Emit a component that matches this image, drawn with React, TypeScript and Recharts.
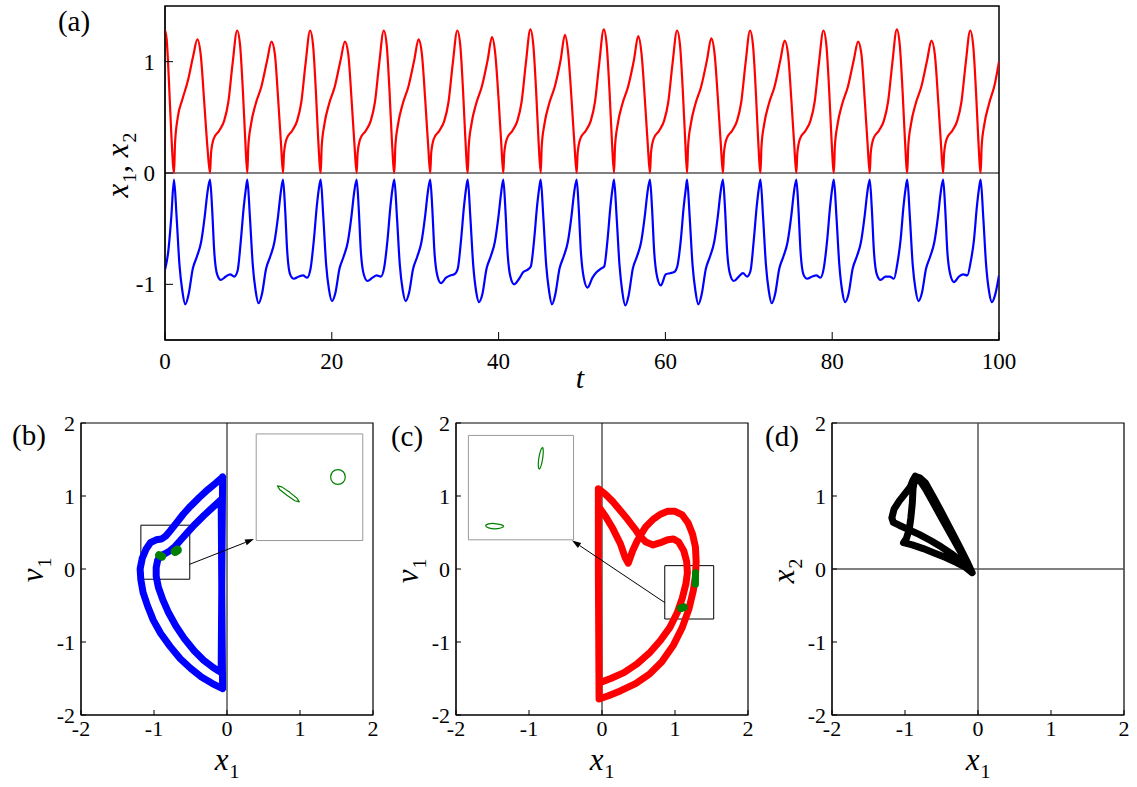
import React from "react";
import { LineChart, Line, XAxis, YAxis, ReferenceLine, ReferenceArea } from "recharts";

// ---------- panel (a): time series, [t, value] ----------
const T_TICKS = [0, 20, 40, 60, 80, 100];
const A_Y_TICKS = [-1, 0, 1];

const X1_SERIES: [number, number][] = [
  [0, 1.28], [0.2, 1.2], [0.48, 0.81], [0.75, 0.36],
  [1.08, 0], [1.2, 0.26], [1.53, 0.5], [2.08, 0.66], [2.78, 0.84], [3.38, 1.05], [3.88, 1.2], [4.3, 1.05], [4.72, 0.62], [5.1, 0.22],
  [5.4, 0], [5.52, 0.18], [5.85, 0.31], [6.5, 0.38], [7.1, 0.47], [7.6, 0.64], [8.1, 0.98], [8.65, 1.28], [9.0, 1.15], [9.35, 0.72], [9.62, 0.3],
  [9.87, 0], [9.99, 0.24], [10.32, 0.44], [10.87, 0.62], [11.57, 0.78], [12.27, 1.02], [12.77, 1.18], [13.17, 1.07], [13.57, 0.66], [13.92, 0.25],
  [14.15, 0], [14.27, 0.18], [14.6, 0.31], [15.25, 0.38], [15.85, 0.47], [16.35, 0.64], [16.85, 0.98], [17.4, 1.28], [17.75, 1.15], [18.1, 0.72], [18.37, 0.3],
  [18.67, 0], [18.79, 0.24], [19.12, 0.44], [19.67, 0.62], [20.37, 0.78], [21.07, 1.02], [21.57, 1.18], [21.97, 1.07], [22.37, 0.66], [22.72, 0.25],
  [22.98, 0], [23.1, 0.18], [23.43, 0.31], [24.08, 0.38], [24.68, 0.47], [25.18, 0.64], [25.68, 0.98], [26.23, 1.28], [26.58, 1.15], [26.93, 0.72], [27.2, 0.3],
  [27.5, 0], [27.62, 0.24], [27.95, 0.44], [28.5, 0.62], [29.2, 0.78], [29.9, 1.02], [30.4, 1.2], [30.8, 1.07], [31.2, 0.66], [31.55, 0.25],
  [31.8, 0], [31.92, 0.18], [32.25, 0.31], [32.9, 0.38], [33.5, 0.47], [34.0, 0.64], [34.5, 0.98], [35.05, 1.28], [35.4, 1.15], [35.75, 0.72], [36.02, 0.3],
  [36.3, 0], [36.42, 0.24], [36.75, 0.44], [37.3, 0.62], [38.0, 0.78], [38.7, 1.02], [39.2, 1.22], [39.6, 1.07], [40.0, 0.66], [40.33, 0.25],
  [40.56, 0], [40.68, 0.18], [41.01, 0.31], [41.66, 0.38], [42.26, 0.47], [42.76, 0.64], [43.26, 0.98], [43.81, 1.29], [44.16, 1.15], [44.51, 0.72], [44.78, 0.3],
  [45.05, 0], [45.17, 0.24], [45.5, 0.44], [46.05, 0.62], [46.75, 0.78], [47.45, 1.02], [47.95, 1.24], [48.35, 1.07], [48.75, 0.66], [49.1, 0.25],
  [49.36, 0], [49.48, 0.18], [49.81, 0.31], [50.46, 0.38], [51.06, 0.47], [51.56, 0.64], [52.06, 0.98], [52.61, 1.29], [52.96, 1.15], [53.31, 0.72], [53.58, 0.3],
  [53.84, 0], [53.96, 0.24], [54.29, 0.44], [54.84, 0.62], [55.54, 0.78], [56.24, 1.02], [56.74, 1.23], [57.14, 1.07], [57.54, 0.66], [57.89, 0.25],
  [58.15, 0], [58.27, 0.18], [58.6, 0.31], [59.25, 0.38], [59.85, 0.47], [60.35, 0.64], [60.85, 0.98], [61.4, 1.28], [61.75, 1.15], [62.1, 0.72], [62.37, 0.3],
  [62.6, 0], [62.72, 0.24], [63.05, 0.44], [63.6, 0.62], [64.3, 0.78], [65.0, 1.02], [65.5, 1.21], [65.9, 1.07], [66.3, 0.66], [66.65, 0.25],
  [66.9, 0], [67.02, 0.18], [67.35, 0.31], [68.0, 0.38], [68.6, 0.47], [69.1, 0.64], [69.6, 0.98], [70.15, 1.28], [70.5, 1.15], [70.85, 0.72], [71.12, 0.3],
  [71.4, 0], [71.52, 0.24], [71.85, 0.44], [72.4, 0.62], [73.1, 0.78], [73.8, 1.02], [74.3, 1.19], [74.7, 1.07], [75.1, 0.66], [75.45, 0.25],
  [75.7, 0], [75.82, 0.18], [76.15, 0.31], [76.8, 0.38], [77.4, 0.47], [77.9, 0.64], [78.4, 0.98], [78.95, 1.28], [79.3, 1.15], [79.65, 0.72], [79.92, 0.3],
  [80.2, 0], [80.32, 0.24], [80.65, 0.44], [81.2, 0.62], [81.9, 0.78], [82.6, 1.02], [83.1, 1.18], [83.5, 1.07], [83.9, 0.66], [84.25, 0.25],
  [84.5, 0], [84.62, 0.18], [84.95, 0.31], [85.6, 0.38], [86.2, 0.47], [86.7, 0.64], [87.2, 0.98], [87.75, 1.29], [88.1, 1.15], [88.45, 0.72], [88.72, 0.3],
  [89.0, 0], [89.12, 0.24], [89.45, 0.44], [90.0, 0.62], [90.7, 0.78], [91.4, 1.02], [91.9, 1.19], [92.3, 1.07], [92.7, 0.66], [93.05, 0.25],
  [93.3, 0], [93.42, 0.18], [93.75, 0.31], [94.4, 0.38], [95.0, 0.47], [95.5, 0.64], [96.0, 0.98], [96.55, 1.28], [96.9, 1.15], [97.25, 0.72], [97.52, 0.3],
  [97.8, 0], [97.92, 0.24], [98.25, 0.44], [98.8, 0.62], [99.5, 0.8], [100, 1.0],
];

const X2_SERIES: [number, number][] = [
  [0, -0.87], [0.4, -0.7], [0.75, -0.4],
  [1.08, -0.06], [1.38, -0.38], [1.73, -0.82], [2.08, -1.06], [2.43, -1.18], [2.83, -1.09], [3.33, -0.86], [3.83, -0.75], [4.33, -0.62], [4.78, -0.38], [5.08, -0.18],
  [5.4, -0.06], [5.65, -0.32], [5.9, -0.7], [6.25, -0.91], [6.7, -0.96], [7.3, -0.93], [7.8, -0.91], [8.3, -0.93], [8.7, -0.88], [9.1, -0.6], [9.45, -0.3], [9.7, -0.14],
  [9.87, -0.06], [10.17, -0.38], [10.52, -0.82], [10.87, -1.06], [11.22, -1.17], [11.62, -1.09], [12.12, -0.86], [12.62, -0.75], [13.12, -0.62], [13.57, -0.38], [13.87, -0.18],
  [14.15, -0.06], [14.4, -0.32], [14.65, -0.7], [15.0, -0.91], [15.45, -0.95], [16.05, -0.93], [16.55, -0.92], [17.05, -0.94], [17.45, -0.86], [17.85, -0.6], [18.2, -0.3], [18.45, -0.14],
  [18.67, -0.06], [18.97, -0.38], [19.32, -0.82], [19.67, -1.05], [20.02, -1.15], [20.42, -1.08], [20.92, -0.86], [21.42, -0.75], [21.92, -0.62], [22.37, -0.38], [22.67, -0.18],
  [22.98, -0.06], [23.23, -0.32], [23.48, -0.7], [23.83, -0.91], [24.28, -0.97], [24.88, -0.94], [25.38, -0.92], [25.88, -0.93], [26.28, -0.85], [26.68, -0.6], [27.03, -0.3], [27.28, -0.14],
  [27.5, -0.06], [27.8, -0.38], [28.15, -0.82], [28.5, -1.05], [28.85, -1.15], [29.25, -1.08], [29.75, -0.86], [30.25, -0.75], [30.75, -0.62], [31.2, -0.38], [31.5, -0.18],
  [31.8, -0.06], [32.05, -0.32], [32.3, -0.7], [32.65, -0.92], [33.1, -0.99], [33.7, -0.94], [34.2, -0.92], [34.7, -0.91], [35.1, -0.86], [35.5, -0.6], [35.85, -0.3], [36.1, -0.14],
  [36.3, -0.06], [36.6, -0.38], [36.95, -0.82], [37.3, -1.06], [37.65, -1.16], [38.05, -1.09], [38.55, -0.86], [39.05, -0.75], [39.55, -0.62], [40.0, -0.38], [40.3, -0.18],
  [40.56, -0.06], [40.81, -0.32], [41.06, -0.7], [41.41, -0.93], [41.86, -1.0], [42.46, -0.95], [42.96, -0.89], [43.46, -0.87], [43.86, -0.84], [44.26, -0.6], [44.61, -0.3], [44.86, -0.14],
  [45.05, -0.06], [45.35, -0.38], [45.7, -0.82], [46.05, -1.06], [46.4, -1.18], [46.8, -1.09], [47.3, -0.86], [47.8, -0.75], [48.3, -0.62], [48.75, -0.38], [49.05, -0.18],
  [49.36, -0.06], [49.61, -0.32], [49.86, -0.7], [50.21, -0.94], [50.66, -1.03], [51.26, -0.94], [51.76, -0.89], [52.26, -0.86], [52.66, -0.84], [53.06, -0.6], [53.41, -0.3], [53.66, -0.14],
  [53.84, -0.06], [54.14, -0.38], [54.49, -0.82], [54.84, -1.07], [55.19, -1.19], [55.59, -1.1], [56.09, -0.86], [56.59, -0.75], [57.09, -0.62], [57.54, -0.38], [57.84, -0.18],
  [58.15, -0.06], [58.4, -0.32], [58.65, -0.7], [59.0, -0.93], [59.45, -1.01], [60.05, -0.91], [60.55, -0.9], [61.05, -0.89], [61.45, -0.83], [61.85, -0.6], [62.2, -0.3], [62.45, -0.14],
  [62.6, -0.06], [62.9, -0.38], [63.25, -0.82], [63.6, -1.06], [63.95, -1.18], [64.35, -1.09], [64.85, -0.86], [65.35, -0.75], [65.85, -0.62], [66.3, -0.38], [66.6, -0.18],
  [66.9, -0.06], [67.15, -0.32], [67.4, -0.7], [67.75, -0.91], [68.2, -0.97], [68.8, -0.93], [69.3, -0.9], [69.8, -0.93], [70.2, -0.88], [70.6, -0.6], [70.95, -0.3], [71.2, -0.14],
  [71.4, -0.06], [71.7, -0.38], [72.05, -0.82], [72.4, -1.06], [72.75, -1.17], [73.15, -1.09], [73.65, -0.86], [74.15, -0.75], [74.65, -0.62], [75.1, -0.38], [75.4, -0.18],
  [75.7, -0.06], [75.95, -0.32], [76.2, -0.7], [76.55, -0.91], [77.0, -0.95], [77.6, -0.93], [78.1, -0.92], [78.6, -0.94], [79.0, -0.85], [79.4, -0.6], [79.75, -0.3], [80.0, -0.14],
  [80.2, -0.06], [80.5, -0.38], [80.85, -0.82], [81.2, -1.06], [81.55, -1.16], [81.95, -1.09], [82.45, -0.86], [82.95, -0.75], [83.45, -0.62], [83.9, -0.38], [84.2, -0.18],
  [84.5, -0.06], [84.75, -0.32], [85.0, -0.7], [85.35, -0.91], [85.8, -0.96], [86.4, -0.93], [86.9, -0.93], [87.4, -0.95], [87.8, -0.82], [88.2, -0.6], [88.55, -0.3], [88.8, -0.14],
  [89.0, -0.06], [89.3, -0.38], [89.65, -0.82], [90.0, -1.05], [90.35, -1.15], [90.75, -1.08], [91.25, -0.86], [91.75, -0.75], [92.25, -0.62], [92.7, -0.38], [93.0, -0.18],
  [93.3, -0.06], [93.55, -0.32], [93.8, -0.7], [94.15, -0.91], [94.6, -0.98], [95.2, -0.93], [95.7, -0.91], [96.2, -0.92], [96.6, -0.8], [97.0, -0.6], [97.35, -0.3], [97.6, -0.14],
  [97.8, -0.06], [98.1, -0.38], [98.45, -0.82], [98.8, -1.06], [99.15, -1.16], [99.55, -1.09], [100, -0.92],
];

// ---------- panels (b)-(d): phase portraits, [x, y] ----------
const PHASE_TICKS = [-2, -1, 0, 1, 2];

const ORBIT_B: [number, number][] = [
  [-0.06, 1.26], [-0.15, 1.18], [-0.26, 1.09], [-0.38, 0.98], [-0.5, 0.86], [-0.6, 0.75], [-0.7, 0.62], [-0.78, 0.52],
  [-0.84, 0.45], [-0.9, 0.41], [-0.97, 0.4], [-1.05, 0.36], [-1.11, 0.27], [-1.16, 0.15], [-1.19, 0.0], [-1.18, -0.15],
  [-1.15, -0.32], [-1.09, -0.5], [-1.01, -0.7], [-0.91, -0.88], [-0.78, -1.06], [-0.64, -1.23], [-0.5, -1.36], [-0.35, -1.48],
  [-0.2, -1.57], [-0.06, -1.64], [-0.07, -0.5], [-0.08, 0.95],
  [-0.2, 0.84], [-0.32, 0.73], [-0.44, 0.61], [-0.55, 0.49], [-0.64, 0.39], [-0.71, 0.31], [-0.78, 0.25], [-0.85, 0.21],
  [-0.91, 0.18], [-0.95, 0.12], [-0.97, 0.02], [-0.97, -0.1], [-0.94, -0.25], [-0.88, -0.42], [-0.8, -0.6], [-0.7, -0.78],
  [-0.58, -0.96], [-0.45, -1.12], [-0.32, -1.25], [-0.19, -1.35], [-0.08, -1.42], [-0.07, 0.0], [-0.06, 1.26],
];

const ORBIT_C: [number, number][] = [
  [-0.04, -1.78], [-0.05, 0.0], [-0.05, 1.1], [0.05, 1.02], [0.15, 0.92], [0.25, 0.8], [0.35, 0.68], [0.45, 0.55], [0.52, 0.45],
  [0.6, 0.37], [0.7, 0.33], [0.8, 0.36], [0.9, 0.4], [0.98, 0.41], [1.05, 0.37], [1.12, 0.25], [1.16, 0.1], [1.17, -0.05],
  [1.15, -0.2], [1.1, -0.4], [1.03, -0.6], [0.93, -0.8], [0.8, -0.98], [0.65, -1.15], [0.48, -1.3], [0.3, -1.42], [0.12, -1.5],
  [-0.04, -1.56], [-0.05, 0.0], [-0.05, 0.86], [0.05, 0.72], [0.15, 0.55], [0.25, 0.35], [0.32, 0.15], [0.36, 0.08],
  [0.42, 0.25], [0.48, 0.38], [0.52, 0.45], [0.6, 0.58], [0.7, 0.68], [0.8, 0.75], [0.9, 0.79], [1.0, 0.79], [1.1, 0.74],
  [1.18, 0.63], [1.24, 0.48], [1.28, 0.3], [1.29, 0.1], [1.28, -0.1], [1.25, -0.3], [1.19, -0.55], [1.1, -0.8], [0.98, -1.04],
  [0.82, -1.27], [0.65, -1.44], [0.46, -1.57], [0.25, -1.67], [0.08, -1.74], [-0.04, -1.78],
];

const ORBIT_D: [number, number][] = [
  [-0.08, -0.05], [-0.22, 0.2], [-0.36, 0.45], [-0.5, 0.7], [-0.62, 0.92], [-0.72, 1.1], [-0.8, 1.22], [-0.86, 1.27],
  [-0.89, 1.1], [-0.9, 0.9], [-0.92, 0.7], [-0.94, 0.55], [-0.98, 0.42], [-1.02, 0.36], [-0.9, 0.33], [-0.75, 0.28],
  [-0.6, 0.22], [-0.45, 0.16], [-0.3, 0.09], [-0.18, 0.03], [-0.08, -0.05],
  [-0.2, 0.08], [-0.35, 0.2], [-0.5, 0.3], [-0.65, 0.39], [-0.8, 0.47], [-0.95, 0.54], [-1.08, 0.6], [-1.16, 0.64],
  [-1.18, 0.7], [-1.15, 0.82], [-1.08, 0.93], [-1.0, 1.03], [-0.93, 1.12], [-0.89, 1.22], [-0.86, 1.27], [-0.8, 1.25],
  [-0.72, 1.18], [-0.62, 1.0], [-0.5, 0.78], [-0.38, 0.55], [-0.25, 0.3], [-0.14, 0.08], [-0.08, -0.05],
];

// Poincare points (green) on the orbits
const GREEN_B1: [number, number][] = [[-0.93, 0.19], [-0.89, 0.17]];
const GREEN_B2: [number, number][] = [[-0.71, 0.24], [-0.68, 0.26]];
const GREEN_C1: [number, number][] = [[1.28, -0.05], [1.28, -0.21]];
const GREEN_C2: [number, number][] = [[1.08, -0.535], [1.12, -0.525]];

// magnified sections drawn inside the insets
const INSET_B1: [number, number][] = [
  [0.99, 0.92], [0.96, 0.97], [0.86, 1.05], [0.75, 1.125], [0.69, 1.14], [0.72, 1.09], [0.82, 1.01], [0.93, 0.935],
];
const INSET_B2: [number, number][] = [
  [1.63, 1.26], [1.6, 1.34], [1.52, 1.37], [1.44, 1.34], [1.41, 1.26], [1.44, 1.18], [1.52, 1.15], [1.6, 1.18],
];
const INSET_C1: [number, number][] = [
  [-0.81, 1.7], [-0.8, 1.6], [-0.82, 1.45], [-0.86, 1.34], [-0.88, 1.42], [-0.86, 1.58],
];
const INSET_C2: [number, number][] = [
  [-1.61, 0.59], [-1.56, 0.625], [-1.47, 0.625], [-1.38, 0.61], [-1.33, 0.585], [-1.38, 0.56], [-1.47, 0.545], [-1.56, 0.56],
];

// zoom boxes [x1, x2, y1, y2] and arrows [from, to]
const ZOOM_BOX_B = [-1.18, -0.51, -0.14, 0.6];
const INSET_BOX_B = [0.4, 1.86, 0.39, 1.85];
const ARROW_B = [[-0.51, 0.065], [0.37, 0.41]];
const ZOOM_BOX_C = [0.86, 1.53, -0.685, 0.046];
const INSET_BOX_C = [-1.83, -0.39, 0.4, 1.83];
const ARROW_C = [[0.86, -0.46], [-0.41, 0.39]];

const serif = '"Liberation Serif", "Times New Roman", "DejaVu Serif", serif';
const toTV = (arr: [number, number][]) => arr.map(([t, v]) => ({ t, v }));
const toXY = (arr: [number, number][]) => arr.map(([x, y]) => ({ x, y }));

const Arrow = (props: any) => {
  const { x1, y1, x2, y2 } = props;
  const ang = Math.atan2(y2 - y1, x2 - x1);
  const len = 9;
  const w = 3;
  const bx = x2 - len * Math.cos(ang);
  const by = y2 - len * Math.sin(ang);
  const pts = `${x2},${y2} ${bx - w * Math.sin(ang)},${by + w * Math.cos(ang)} ${bx + w * Math.sin(ang)},${by - w * Math.cos(ang)}`;
  return (
    <g>
      <line x1={x1} y1={y1} x2={bx} y2={by} stroke="#000" strokeWidth={1} />
      <polygon points={pts} fill="#000" />
    </g>
  );
};

const Txt = ({ x, y, size, rotate, italic, children }: any) => (
  <div
    style={{
      position: "absolute",
      left: x,
      top: y,
      transform: `translate(-50%, -50%)${rotate ? " rotate(-90deg)" : ""}`,
      fontFamily: serif,
      fontSize: size,
      fontStyle: italic ? "italic" : "normal",
      lineHeight: 1,
      whiteSpace: "nowrap",
      color: "#000",
    }}
  >
    {children}
  </div>
);

const Sub = ({ children }: any) => (
  <span style={{ fontSize: "0.64em", fontStyle: "normal", position: "relative", top: "0.38em", marginLeft: 1 }}>
    {children}
  </span>
);

const tickStyle = (size: number) => ({ fontFamily: serif, fontSize: size, fill: "#000" });

const box = (b: number[], stroke: string, fill: string) => (
  <ReferenceArea x1={b[0]} x2={b[1]} y1={b[2]} y2={b[3]} stroke={stroke} strokeWidth={1} fill={fill} fillOpacity={1} />
);

function phaseAxes(yWidth: number) {
  return [
    <XAxis
      key="x"
      type="number"
      dataKey="x"
      domain={[-2, 2]}
      ticks={PHASE_TICKS}
      interval={0}
      allowDataOverflow
      height={40}
      tickSize={-5}
      tickMargin={10}
      tick={tickStyle(22)}
      axisLine={{ stroke: "#000" }}
      tickLine={{ stroke: "#000" }}
    />,
    <YAxis
      key="y"
      type="number"
      dataKey="y"
      domain={[-2, 2]}
      ticks={PHASE_TICKS}
      interval={0}
      allowDataOverflow
      width={yWidth}
      tickSize={-5}
      tickMargin={11}
      tick={tickStyle(22)}
      axisLine={{ stroke: "#000" }}
      tickLine={{ stroke: "#000" }}
    />,
    <ReferenceArea key="frame" x1={-2} x2={2} y1={-2} y2={2} fill="none" stroke="#000" strokeWidth={1.2} />,
  ];
}

const orbitLine = (data: [number, number][], color: string, width: number, type: any = "linear") => (
  <Line
    data={toXY(data)}
    dataKey="y"
    type={type}
    stroke={color}
    strokeWidth={width}
    strokeLinejoin="round"
    strokeLinecap="round"
    dot={false}
    isAnimationActive={false}
  />
);

const PANEL_TOP = 400;
const PANEL_MARGIN = { top: 23, right: 14, left: 0, bottom: 0 };

export default function App() {
  return (
    <div style={{ position: "absolute", left: 0, top: 0, width: 1137, height: 787, background: "#fff", overflow: "hidden" }}>
      {/* (a) */}
      <div style={{ position: "absolute", left: 0, top: 0 }}>
        <LineChart width={1030} height={400} margin={{ top: 6, right: 31, left: 0, bottom: 0 }}>
          <XAxis
            type="number"
            dataKey="t"
            domain={[0, 100]}
            ticks={T_TICKS}
            interval={0}
            allowDataOverflow
            height={60}
            tickSize={-8}
            tickMargin={21}
            tick={tickStyle(23)}
            axisLine={{ stroke: "#000" }}
            tickLine={{ stroke: "#000" }}
          />
          <YAxis
            type="number"
            dataKey="v"
            domain={[-1.5, 1.5]}
            ticks={A_Y_TICKS}
            interval={0}
            allowDataOverflow
            width={165}
            tickSize={-8}
            tickMargin={18}
            tick={tickStyle(23)}
            axisLine={{ stroke: "#000" }}
            tickLine={{ stroke: "#000" }}
          />
          <ReferenceArea x1={0} x2={100} y1={-1.5} y2={1.5} fill="none" stroke="#000" strokeWidth={1.5} />
          <ReferenceLine y={0} stroke="#000" strokeWidth={1} />
          <Line data={toTV(X1_SERIES)} dataKey="v" type="monotone" stroke="#ff0000" strokeWidth={2.2} dot={false} isAnimationActive={false} />
          <Line data={toTV(X2_SERIES)} dataKey="v" type="monotone" stroke="#0000ff" strokeWidth={2.2} dot={false} isAnimationActive={false} />
        </LineChart>
      </div>

      {/* (b) */}
      <div style={{ position: "absolute", left: 0, top: PANEL_TOP }}>
        <LineChart width={387} height={355} margin={PANEL_MARGIN}>
          {phaseAxes(81)}
          <ReferenceLine x={0} stroke="#000" strokeWidth={1} />
          {box(INSET_BOX_B, "#999", "#fff")}
          {orbitLine(ORBIT_B, "#0000ff", 7)}
          {box(ZOOM_BOX_B, "#000", "none")}
          {orbitLine(GREEN_B1, "#008000", 8)}
          {orbitLine(GREEN_B2, "#008000", 9)}
          {orbitLine(INSET_B1, "#008000", 1.2, "linearClosed")}
          {orbitLine(INSET_B2, "#008000", 1.2, "basisClosed")}
          <ReferenceLine
            segment={[{ x: ARROW_B[0][0], y: ARROW_B[0][1] }, { x: ARROW_B[1][0], y: ARROW_B[1][1] }]}
            shape={Arrow}
          />
        </LineChart>
      </div>

      {/* (c) */}
      <div style={{ position: "absolute", left: 370, top: PANEL_TOP }}>
        <LineChart width={392} height={355} margin={PANEL_MARGIN}>
          {phaseAxes(86)}
          <ReferenceLine x={0} stroke="#000" strokeWidth={1} />
          {box(INSET_BOX_C, "#999", "#fff")}
          {orbitLine(ORBIT_C, "#ff0000", 7)}
          {box(ZOOM_BOX_C, "#000", "none")}
          {orbitLine(GREEN_C1, "#008000", 7)}
          {orbitLine(GREEN_C2, "#008000", 8)}
          {orbitLine(INSET_C1, "#008000", 1.2, "basisClosed")}
          {orbitLine(INSET_C2, "#008000", 1.2, "basisClosed")}
          <ReferenceLine
            segment={[{ x: ARROW_C[0][0], y: ARROW_C[0][1] }, { x: ARROW_C[1][0], y: ARROW_C[1][1] }]}
            shape={Arrow}
          />
        </LineChart>
      </div>

      {/* (d) */}
      <div style={{ position: "absolute", left: 745, top: PANEL_TOP }}>
        <LineChart width={393} height={355} margin={PANEL_MARGIN}>
          {phaseAxes(87)}
          <ReferenceLine x={0} stroke="#555" strokeWidth={1.5} />
          <ReferenceLine y={0} stroke="#555" strokeWidth={1.5} />
          {orbitLine(ORBIT_D, "#000", 7)}
        </LineChart>
      </div>

      {/* labels */}
      <Txt x={74} y={21} size={29}>(a)</Txt>
      <Txt x={29} y={435} size={29}>(b)</Txt>
      <Txt x={407} y={436} size={29}>(c)</Txt>
      <Txt x={782} y={436} size={29}>(d)</Txt>

      <Txt x={580} y={378} size={30} italic>t</Txt>
      <Txt x={117} y={165} size={31} rotate italic>
        x<Sub>1</Sub>, x<Sub>2</Sub>
      </Txt>

      <Txt x={32} y={570} size={31} rotate italic>v<Sub>1</Sub></Txt>
      <Txt x={407} y={571} size={31} rotate italic>v<Sub>1</Sub></Txt>
      <Txt x={783} y={571} size={31} rotate italic>x<Sub>2</Sub></Txt>

      <Txt x={227} y={759} size={31} italic>x<Sub>1</Sub></Txt>
      <Txt x={602} y={759} size={31} italic>x<Sub>1</Sub></Txt>
      <Txt x={978} y={759} size={31} italic>x<Sub>1</Sub></Txt>
    </div>
  );
}
